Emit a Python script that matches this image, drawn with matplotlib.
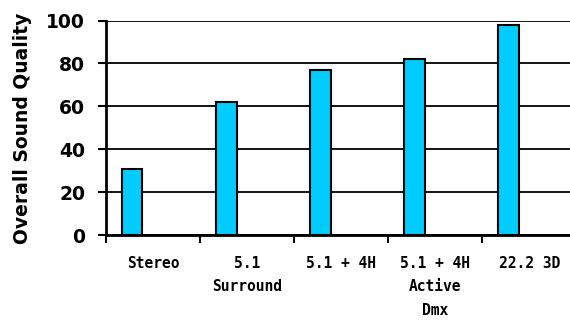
import numpy as np
import matplotlib.pyplot as plt

# formats and their overall sound quality scores
formats = ["Stereo", "5.1\nSurround", "5.1 + 4H", "5.1 + 4H\nActive\nDmx", "22.2 3D"]
quality = [31, 62, 77, 82, 98]
yticks = [0, 20, 40, 60, 80, 100]

fig = plt.figure(figsize=(5.7, 3.22), dpi=100)
ax = fig.add_axes([0.186, 0.270, 0.825, 0.666])

x = np.arange(len(formats))
ax.bar(x - 0.22, quality, width=0.215, color="#00CCFF", edgecolor="black",
       linewidth=1.5, zorder=3)

ax.set_xlim(-0.5, len(formats) - 0.5)
ax.set_ylim(0, 100)
ax.set_yticks(yticks)
ax.set_yticklabels([str(v) for v in yticks], fontsize=13.5, fontweight="bold")

# boundaries get the tick marks, centres get the labels
ax.set_xticks(np.arange(len(formats) + 1) - 0.5)
ax.set_xticklabels([])
ax.set_xticks(x, minor=True)
ax.set_xticklabels(formats, minor=True, fontsize=10.5, fontweight="bold",
                   family="DejaVu Sans Mono", linespacing=1.7)
ax.tick_params(axis="x", which="major", length=6, width=1.5, direction="out")
ax.tick_params(axis="x", which="minor", length=0, pad=15)
ax.tick_params(axis="y", length=6, width=1.5, pad=9)

ax.grid(axis="y", color="black", linewidth=1.3, zorder=0)
ax.set_axisbelow(True)
for side in ["top", "right"]:
    ax.spines[side].set_visible(False)
for side in ["left", "bottom"]:
    ax.spines[side].set_linewidth(2)

ax.set_ylabel("Overall Sound Quality", fontsize=13.5, fontweight="bold", labelpad=10)

fig.savefig("out.png", dpi=100)
